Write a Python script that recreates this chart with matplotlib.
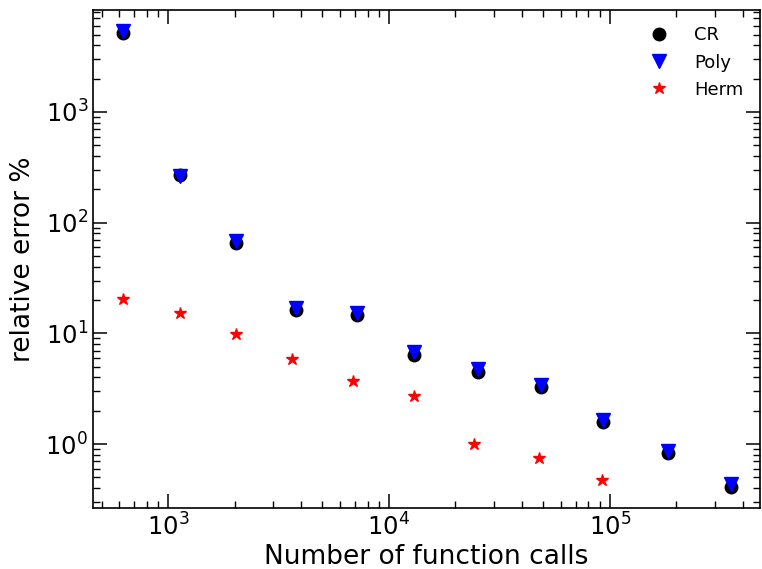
import matplotlib
matplotlib.use('Agg')
import matplotlib.pyplot as plt
import numpy as np

# Number of function calls
vCallsCR = [625, 1133, 2030, 3795, 7160, 12970, 25300, 48800, 92900, 182800, 352000]
vCallsHerm = [625, 1133, 2030, 3637, 6870, 12970, 24270, 47800, 92000]

# relative error %
vErrCR = [5160, 269, 65.4, 16.2, 14.6, 6.37, 4.47, 3.27, 1.58, 0.83, 0.41]
vErrPoly = [5400, 262, 68.0, 17.0, 15.4, 6.75, 4.75, 3.42, 1.65, 0.86, 0.435]
vErrHerm = [20.4, 15.3, 9.86, 5.86, 3.71, 2.71, 1.0, 0.75, 0.47]

hFig = plt.figure(figsize=(7.62, 5.69), dpi=100)
hAx = hFig.add_axes([0.122, 0.107, 0.875, 0.875])

hAx.plot(vCallsCR, vErrCR, 'o', color='k', markersize=9, label='CR')
hAx.plot(vCallsCR, vErrPoly, 'v', color='b', markersize=10, label='Poly')
hAx.plot(vCallsHerm, vErrHerm, '*', color='r', markersize=9, label='Herm')

hAx.set_xscale('log')
hAx.set_yscale('log')
hAx.set_xlim(457, 477000)
hAx.set_ylim(0.264, 8300)

hAx.tick_params(which='both', direction='in', top=True, right=True, labelsize=17.5)
hAx.tick_params(which='major', length=10, width=1.1)
hAx.tick_params(which='minor', length=5, width=1.0)
for s in hAx.spines.values():
    s.set_linewidth(1.2)

hAx.set_xlabel('Number of function calls', fontsize=19, labelpad=2.5)
hAx.set_ylabel('relative error %', fontsize=19, labelpad=7)
hAx.legend(loc='upper right', frameon=False, fontsize=13, handletextpad=0.95)

hFig.savefig('out.png', dpi=100)
